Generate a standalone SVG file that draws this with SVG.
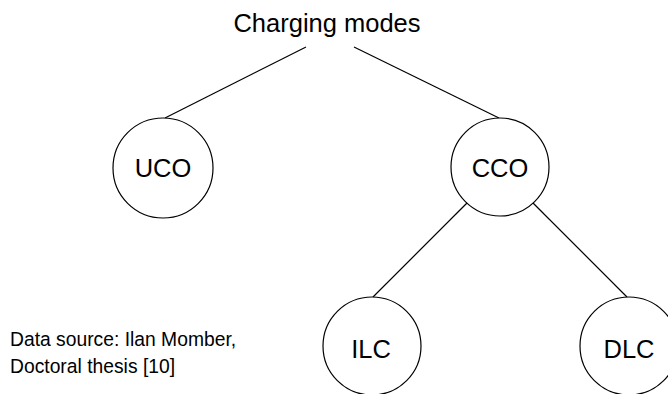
<svg xmlns="http://www.w3.org/2000/svg" width="668" height="394" viewBox="0 0 668 394">
<style>
text{font-family:"Liberation Sans",Arial,sans-serif;fill:#000}
.lbl{font-size:25.5px;text-anchor:middle}
.node circle{fill:#fff;stroke:#000;stroke-width:1.2}
.conn line{stroke:#000;stroke-width:1.2}
.note{font-size:19.3px}
</style>
<rect width="668" height="394" fill="#fff"/>
<g id="connectors" class="conn">
<line x1="306" y1="47" x2="165" y2="118"/>
<line x1="354" y1="47" x2="499" y2="118"/>
<line x1="467" y1="203" x2="373" y2="297"/>
<line x1="533" y1="203" x2="627" y2="297"/>
</g>
<g id="root"><text class="lbl" x="327" y="32">Charging modes</text></g>
<g id="uco" class="node"><circle cx="163" cy="168" r="50"/><text class="lbl" x="163" y="177">UCO</text></g>
<g id="cco" class="node"><circle cx="500" cy="167" r="49"/><text class="lbl" x="500" y="177">CCO</text></g>
<g id="ilc" class="node"><circle cx="372" cy="346" r="49"/><text class="lbl" x="371" y="358">ILC</text></g>
<g id="dlc" class="node"><circle cx="629" cy="346" r="49"/><text class="lbl" x="629" y="358">DLC</text></g>
<g id="note"><text class="note" x="10" y="346">Data source: Ilan Momber,</text><text class="note" x="10" y="373">Doctoral thesis [10]</text></g>
</svg>
